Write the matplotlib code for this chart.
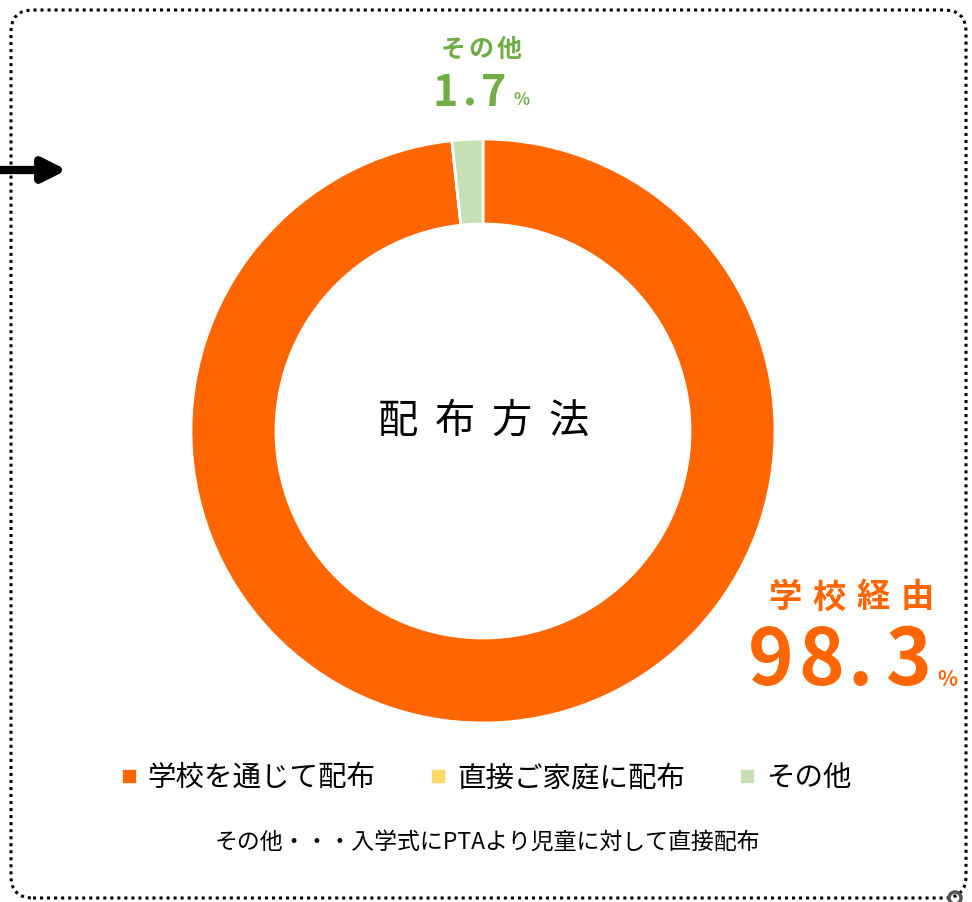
import matplotlib
matplotlib.use("Agg")
from matplotlib import patches as patches
from matplotlib import pyplot as plt
from matplotlib.lines import Line2D

plt.rcParams["font.family"] = ["Noto Sans CJK JP", "DejaVu Sans"]

categories = ["学校を通じて配布", "直接ご家庭に配布", "その他"]
values = [98.3, 0.0, 1.7]
colors = ["#FF6600", "#FFD966", "#C5E0B4"]
center_title = "配布方法"
note = "その他・・・入学式にPTAより児童に対して直接配布"

W, H = 972, 902


def spaced(ax, x, y, s, pitch, **kw):
    # draw a string one character at a time with wide letter spacing
    x0 = x - pitch * (len(s) - 1) / 2
    for i, ch in enumerate(s):
        ax.text(x0 + i * pitch, y, ch, ha="center", va="center", **kw)


fig = plt.figure(figsize=(W / 100, H / 100), dpi=100)
ax = fig.add_axes([0, 0, 1, 1])
ax.set_xlim(0, W)
ax.set_ylim(0, H)
ax.set_aspect("equal")
ax.axis("off")

# dotted rounded frame
ax.add_patch(
    patches.FancyBboxPatch(
        (11, 4), 955, 888,
        boxstyle="round,pad=0,rounding_size=22",
        fill=False, linestyle=(0, (1, 1.3)), linewidth=2.2, edgecolor="black",
    )
)
# arrow on the left
ax.annotate(
    "", xy=(67, H - 170), xytext=(0, H - 170),
    arrowprops=dict(arrowstyle="-|>,head_length=1.4,head_width=0.7",
                    lw=6, color="black", shrinkA=0, shrinkB=0),
)
ax.add_patch(patches.Circle((955, 4), 6, fill=False, lw=2.5, edgecolor="#555555"))

wedges, _ = ax.pie(
    values, colors=colors, startangle=90, counterclock=False,
    center=(483, H - 431), radius=292,
    wedgeprops=dict(width=85, edgecolor="white", linewidth=2),
)
ax.set_xlim(0, W)
ax.set_ylim(0, H)

spaced(ax, 483, H - 422, center_title, 57, fontsize=29, color="black")

green = "#70AD47"
orange = "#FF6600"
spaced(ax, 481, H - 50, "その他", 28, fontsize=18, fontweight="bold", color=green)
for ch, cx in zip("1.7", [445, 470, 494]):
    ax.text(cx, H - 93, ch, ha="center", va="center", fontsize=31,
            fontweight="bold", color=green)
ax.text(513, H - 100, "%", ha="left", va="center", fontsize=12,
        fontweight="bold", color=green)

spaced(ax, 851, H - 598, "学校経由", 44, fontsize=24, fontweight="bold", color=orange)
for ch, cx in zip("98.3", [771, 821, 860, 908]):
    ax.text(cx, H - 662, ch, ha="center", va="center", fontsize=56,
            fontweight="bold", color=orange)
ax.text(937, H - 680, "%", ha="left", va="center", fontsize=15,
        fontweight="bold", color=orange)

handles = [Line2D([], [], marker="s", linestyle="none", markersize=8,
                  markerfacecolor=c, markeredgecolor=c) for c in colors]
fig.legend(handles, categories, loc="center", bbox_to_anchor=(0.5, 1 - 778 / H),
           ncol=3, frameon=False, fontsize=20.5, handlelength=0.6,
           handletextpad=0.35, columnspacing=1.9)

ax.text(487, H - 842, note, ha="center", va="center", fontsize=16.5, color="black")

fig.savefig("out.png", dpi=100)
